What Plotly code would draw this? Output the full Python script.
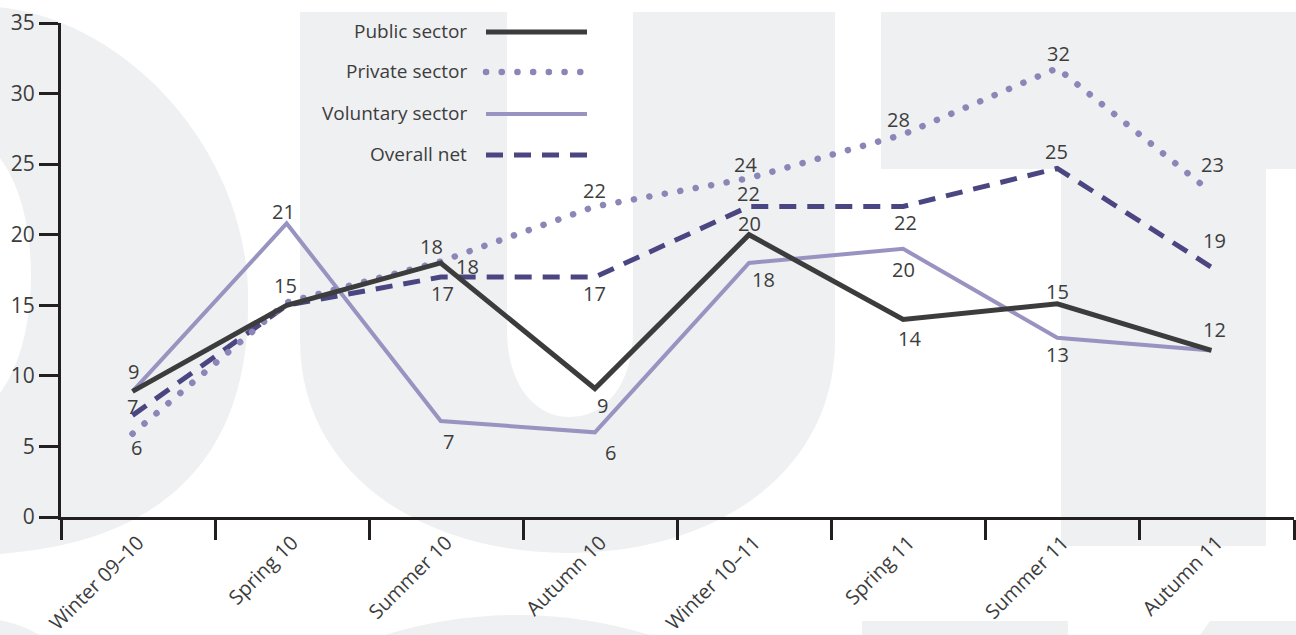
import plotly.graph_objects as go

# ---------------- data ----------------
categories = ["Winter 09–10", "Spring 10", "Summer 10", "Autumn 10",
              "Winter 10–11", "Spring 11", "Summer 11", "Autumn 11"]
public = [8.9, 15.0, 18.0, 9.1, 20.0, 14.0, 15.1, 11.8]
private = [5.9, 15.2, 18.1, 22.0, 24.0, 27.1, 31.8, 23.0]
voluntary = [8.9, 20.8, 6.8, 6.0, 18.0, 19.0, 12.7, 11.8]
overall = [7.2, 15.0, 17.0, 17.0, 22.0, 22.0, 24.7, 17.7]

public_labels = ["9", "15", "18", "9", "20", "14", "15", "12"]
private_labels = ["6", "", "18", "22", "24", "28", "32", "23"]
voluntary_labels = ["", "21", "7", "6", "18", "20", "13", ""]
overall_labels = ["7", "", "17", "17", "22", "22", "25", "19"]

y_ticks = [0, 5, 10, 15, 20, 25, 30, 35]
series_names = ["Public sector", "Private sector", "Voluntary sector", "Overall net"]

# ---------------- styles / positions ----------------
W, H = 1296, 635
ML, MR, MT, MB = 61, 2, 23, 118
PW, PH = W - ML - MR, H - MT - MB
FONT = "Open Sans, Noto Sans, sans-serif"
TXT = "#3d3d3d"
AX = "#231f20"
WM = "#eff0f2"
POINT_SHIFT = 0.036  # points sit slightly left of the category centre

styles = {
    "Public sector": dict(color="#3c3c3c", width=5, dash="solid"),
    "Private sector": dict(color="#8a86b8", width=6.5, dash="0.1px,15.6px"),
    "Voluntary sector": dict(color="#9893c0", width=4, dash="solid"),
    "Overall net": dict(color="#4a4682", width=5, dash="17px,11px"),
}
# label offsets in pixels (dx right, dy down) relative to the point
public_off = [(1, -20), (-1, -20), (-9, -16), (8, 17), (0, -11), (6, 19), (0, -12), (3, -21)]
private_off = [(4, 14), None, (27, 5), (0, -16), (-4, -14), (-5, -15), (1, -15), (1, -28)]
voluntary_off = [None, (-3, -12), (8, 20), (16, 20), (14, 17), (0, 21), (0, 17), None]
overall_off = [(0, -9), None, (2, 16), (0, 16), (-1, -13), (2, 16), (-1, -17), (3, -27)]


def px(x):
    return (x - ML) / PW


def py(y):
    return (MT + PH - y) / PH


def path(segs):
    out = []
    for cmd, pts in segs:
        if cmd == "L":
            for a, b in pts:
                out.append(f"L {px(a):.5f},{py(b):.5f}")
        elif cmd == "Z":
            out.append("Z")
        else:
            out.append(cmd + " " + " ".join(f"{px(a):.5f},{py(b):.5f}" for a, b in pts))
    return " ".join(out)


fig = go.Figure()

# empty trace that anchors the visible category axis
fig.add_trace(go.Scatter(x=categories, y=[None] * len(categories), mode="lines",
                         xaxis="x", yaxis="y", showlegend=False, hoverinfo="skip"))

data_map = {
    "Public sector": (public, public_labels, public_off),
    "Private sector": (private, private_labels, private_off),
    "Voluntary sector": (voluntary, voluntary_labels, voluntary_off),
    "Overall net": (overall, overall_labels, overall_off),
}
draw_order = ["Voluntary sector", "Overall net", "Private sector", "Public sector"]
for name in draw_order:
    vals = data_map[name][0]
    st = styles[name]
    fig.add_trace(go.Scatter(
        x=categories, y=vals, mode="lines", name=name, xaxis="x2", yaxis="y",
        line=dict(color=st["color"], width=st["width"], dash=st["dash"]),
        showlegend=False, hoverinfo="x+y+name",
    ))

annotations = []
for name in series_names:
    vals, labels, offs = data_map[name]
    for c, v, lab, off in zip(categories, vals, labels, offs):
        if not lab or off is None:
            continue
        annotations.append(dict(
            x=c, y=v, xref="x2", yref="y", text=lab, showarrow=False,
            xshift=off[0], yshift=-off[1],
            font=dict(family=FONT, size=20, color=TXT),
            xanchor="center", yanchor="middle",
        ))

# custom legend (text right, sample line to the right)
legend_rows = [32, 72, 114, 155]
shapes = []
for name, yrow in zip(series_names, legend_rows):
    st = styles[name]
    annotations.append(dict(
        x=px(469), y=py(yrow - 1), xref="paper", yref="paper", text=name,
        showarrow=False, xanchor="right", yanchor="middle",
        font=dict(family=FONT, size=19, color=TXT),
    ))
    shapes.append(dict(
        type="line", xref="paper", yref="paper",
        x0=px(486), x1=px(587), y0=py(yrow), y1=py(yrow),
        line=dict(color=st["color"], width=st["width"], dash=st["dash"]),
        layer="above",
    ))

# background watermark letters
wm_paths = [
    # O
    path([("M", [(-20, 6)]), ("C", [(120, 8), (250, 150), (248, 300)]),
          ("C", [(250, 450), (170, 548), (-20, 555)]), ("Z", []),
          ("M", [(-20, 140)]), ("C", [(48, 180), (48, 370), (-20, 412)]), ("Z", [])]),
    # U
    path([("M", [(300, 12)]), ("L", [(300, 340)]),
          ("C", [(300, 472), (420, 553), (568, 553)]),
          ("C", [(716, 553), (835, 472), (835, 340)]),
          ("L", [(835, 12), (633, 12), (633, 330)]),
          ("C", [(633, 385), (605, 417), (570, 417)]),
          ("C", [(535, 417), (507, 385), (507, 330)]),
          ("L", [(507, 12)]), ("Z", [])]),
    # T
    path([("M", [(881, 12)]), ("L", [(1310, 12), (1310, 169), (1266, 169), (1266, 546),
                                     (1061, 546), (1061, 169), (881, 169)]), ("Z", [])]),
    # next line fragments
    path([("M", [(862, 621)]), ("L", [(1068, 621), (1068, 645), (862, 645)]), ("Z", [])]),
    path([("M", [(1210, 621)]), ("L", [(1310, 621), (1310, 645), (1193, 645)]), ("Z", [])]),
    path([("M", [(355, 645)]), ("Q", [(517, 585), (680, 645)]), ("Z", [])]),
    path([("M", [(-20, 618)]), ("Q", [(22, 620), (55, 645)]), ("L", [(-20, 645)]), ("Z", [])]),
]
for p in wm_paths:
    shapes.append(dict(type="path", xref="paper", yref="paper", path=p,
                       fillcolor=WM, line=dict(width=0), layer="below",
                       fillrule="evenodd"))

fig.update_layout(
    width=W, height=H,
    margin=dict(l=ML, r=MR, t=MT, b=MB, pad=0),
    paper_bgcolor="white", plot_bgcolor="rgba(0,0,0,0)",
    font=dict(family=FONT, color=TXT),
    showlegend=False,
    annotations=annotations,
    shapes=shapes,
    xaxis=dict(
        type="category", categoryorder="array", categoryarray=categories,
        range=[-0.5, 7.5], tickson="boundaries",
        ticks="outside", ticklen=20, tickwidth=3, tickcolor=AX,
        showline=True, linewidth=3, linecolor=AX, showgrid=False, zeroline=False,
        tickangle=-45, tickfont=dict(family=FONT, size=20, color=TXT),
        ticklabelstandoff=3,
        fixedrange=True, automargin=False,
    ),
    xaxis2=dict(
        type="category", categoryorder="array", categoryarray=categories,
        range=[-0.5 + POINT_SHIFT, 7.5 + POINT_SHIFT], overlaying="x",
        anchor="y", visible=False, fixedrange=True, automargin=False,
    ),
    yaxis=dict(
        range=[0, 35], tickvals=y_ticks, ticktext=[str(v) for v in y_ticks],
        ticks="outside", ticklen=19, tickwidth=3, tickcolor=AX,
        showline=True, linewidth=3, linecolor=AX, showgrid=False, zeroline=False,
        tickfont=dict(family=FONT, size=21, color=TXT),
        fixedrange=True, automargin=False, anchor="x",
    ),
)

css = ('var s=document.createElement("style");'
       's.textContent=\'body{margin:0 !important;overflow:hidden;} '
       'path[style*="0.1px"]{stroke-linecap:round !important;}\';'
       'document.head.appendChild(s);')
fig.write_html("out.html", post_script=css, config=dict(displayModeBar=False))
